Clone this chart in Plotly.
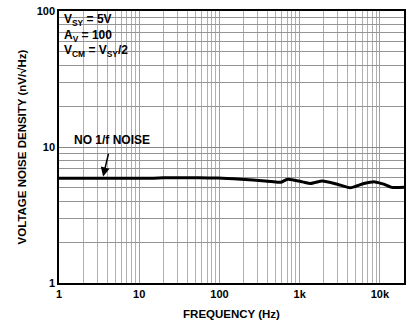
import plotly.graph_objects as go

# Voltage noise density vs. frequency
freq_hz = [1, 2, 5, 10, 15, 20, 55, 97, 187, 370, 535, 582, 711, 1089, 1368,
           1923, 2944, 4266, 6340, 8670, 11200, 14060, 20000]
noise_nv = [5.88, 5.88, 5.88, 5.88, 5.9, 5.93, 5.95, 5.91, 5.79, 5.63, 5.51,
            5.51, 5.79, 5.54, 5.39, 5.63, 5.33, 5.01, 5.39, 5.54, 5.33, 5.05, 5.05]

x_ticks = [1, 10, 100, 1000, 10000]
x_ticktext = ["1", "10", "100", "1k", "10k"]
y_ticks = [1, 10, 100]
y_ticktext = ["1", "10", "100"]

conditions = ["V<sub>SY</sub> = 5V", "A<sub>V</sub> = 100", "V<sub>CM</sub> = V<sub>SY</sub>/2"]

x_minor = [m * 10 ** d for d in range(0, 5) for m in range(2, 10) if m * 10 ** d <= 20000]
y_minor = [m * 10 ** d for d in range(0, 2) for m in range(2, 10)]

FONT = "Liberation Sans, Arial, sans-serif"


def bold(labels):
    return [f"<b>{t}</b>" for t in labels]


fig = go.Figure()
fig.add_trace(go.Scatter(
    x=freq_hz, y=noise_nv, mode="lines",
    line=dict(color="black", width=3, shape="spline", smoothing=0.6),
    hoverinfo="skip", showlegend=False,
))

fig.update_xaxes(
    type="log", range=[0, 4.301],
    tickmode="array", tickvals=x_ticks, ticktext=bold(x_ticktext),
    showgrid=True, gridcolor="#a0a0a0", gridwidth=1,
    minor=dict(tickmode="array", tickvals=x_minor, showgrid=True,
               gridcolor="#b0b0b0", gridwidth=1, ticks=""),
    showline=True, linecolor="black", linewidth=1.5, mirror=True,
    ticks="", tickfont=dict(family=FONT, size=11, color="black"),
    title=dict(text="<b>FREQUENCY (Hz)</b>", font=dict(family=FONT, size=11.5, color="black"),
               standoff=11),
    zeroline=False,
)
fig.update_yaxes(
    type="log", range=[0, 2],
    tickmode="array", tickvals=y_ticks, ticktext=bold(y_ticktext),
    showgrid=True, gridcolor="#888888", gridwidth=1,
    minor=dict(tickmode="array", tickvals=y_minor, showgrid=True,
               gridcolor="#949494", gridwidth=1, ticks=""),
    showline=True, linecolor="black", linewidth=1.5, mirror=True,
    ticks="", tickfont=dict(family=FONT, size=11, color="black"),
    title=dict(text="<b>VOLTAGE NOISE DENSITY (nV/√Hz)</b>",
               font=dict(family=FONT, size=11.5, color="black"), standoff=8),
    zeroline=False,
)

# white panels behind the condition block and the label
fig.add_shape(type="rect", xref="paper", yref="paper", x0=0, x1=0.225, y0=0.799, y1=1,
              fillcolor="white", line=dict(width=0), layer="between")
fig.add_shape(type="rect", xref="paper", yref="paper", x0=0.032, x1=0.268, y0=0.498, y1=0.56,
              fillcolor="white", line=dict(width=0), layer="between")

for i, line in enumerate(conditions):
    fig.add_annotation(
        xref="paper", yref="paper", x=0.009, y=0.9675 - i * 0.0578,
        xanchor="left", yanchor="middle", align="left", showarrow=False,
        text=f"<b>{line}</b>", font=dict(family=FONT, size=12, color="black"),
    )

fig.add_annotation(
    x=0.544, y=0.7694, xref="x", yref="y",
    text="<b>NO 1/f NOISE</b>", font=dict(family=FONT, size=12, color="black"),
    showarrow=True, arrowhead=2, arrowsize=1.2, arrowwidth=1.5, arrowcolor="black",
    ax=9, ay=-38, standoff=2, startstandoff=5,
)

fig.update_layout(
    width=411, height=324,
    margin=dict(l=59, r=5, t=6, b=41),
    paper_bgcolor="white", plot_bgcolor="white",
)

fig.write_html("out.html")
